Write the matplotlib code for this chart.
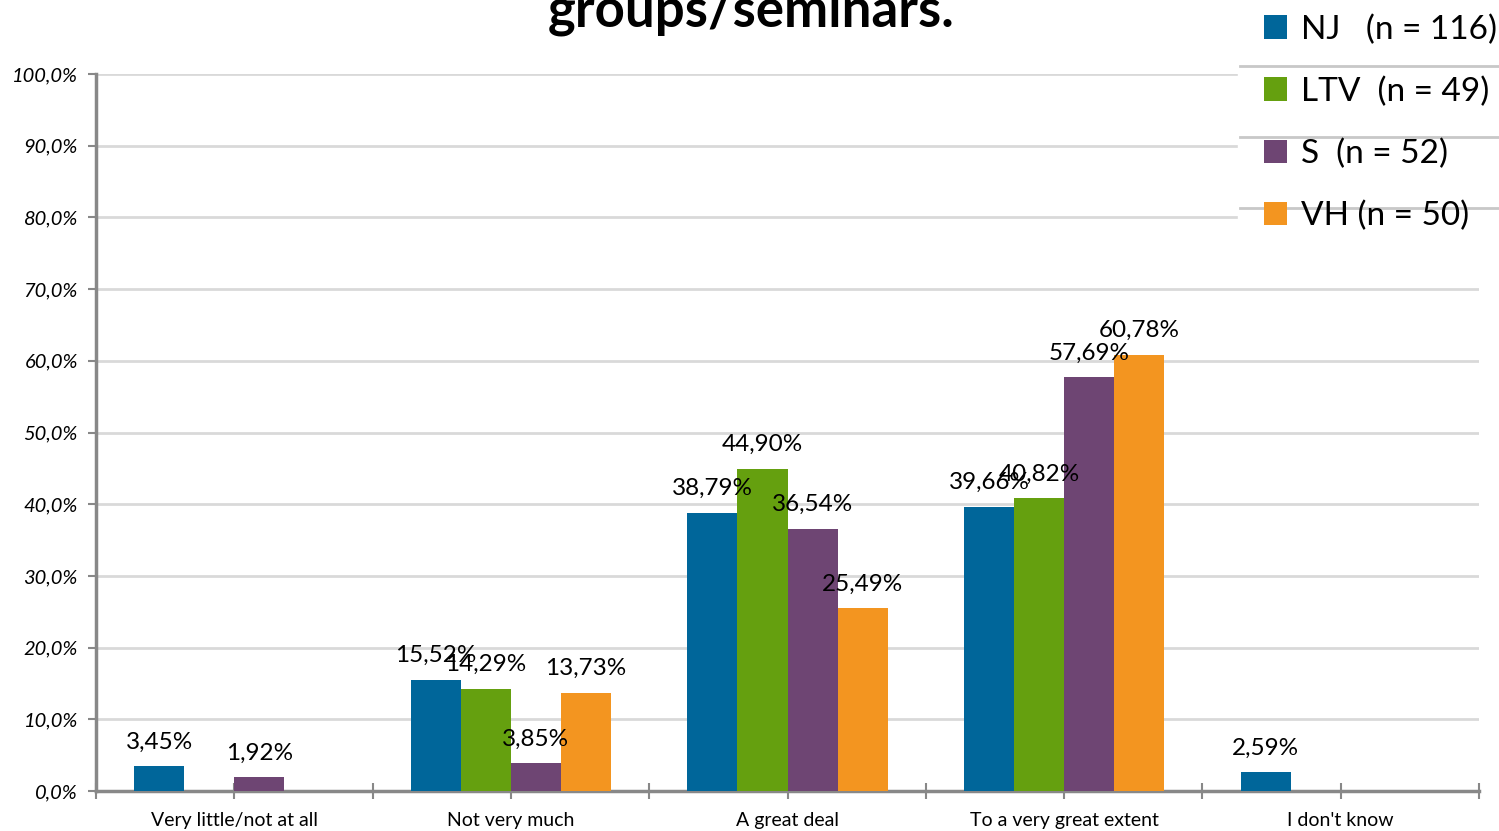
import numpy as np
import matplotlib.pyplot as plt
from matplotlib.ticker import FixedLocator
from matplotlib.lines import Line2D

plt.rcParams['font.family'] = ['Lato', 'DejaVu Sans']

categories = ['Very little/not at all', 'Not very much', 'A great deal',
              'To a very great extent', "I don't know"]
series_names = ['NJ   (n = 116)', 'LTV  (n = 49)', 'S  (n = 52)', 'VH (n = 50)']
nj = [3.45, 15.52, 38.79, 39.66, 2.59]
ltv = [0, 14.29, 44.90, 40.82, 0]
s = [1.92, 3.85, 36.54, 57.69, 0]
vh = [0, 13.73, 25.49, 60.78, 0]
colors = ['#00669a', '#65a00f', '#6e4573', '#f39520']
y_ticks = np.arange(0, 101, 10)

fig = plt.figure(figsize=(14.99, 8.31), dpi=100)
ax = fig.add_axes([96 / 1499, 1 - 791 / 831, (1479 - 96) / 1499, (791 - 74) / 831])

x = np.arange(len(categories))
w = 0.181
for i, (vals, c) in enumerate(zip([nj, ltv, s, vh], colors)):
    pos = x + (i - 1.5) * w
    ax.bar(pos, vals, width=w, color=c, label=series_names[i], zorder=3)
    for p, v in zip(pos, vals):
        if v > 0:
            ax.annotate(f"{v:.2f}%".replace('.', ','), (p, v), xytext=(0, 10),
                        textcoords='offset points', ha='center', va='bottom',
                        fontsize=17.5, color='black', zorder=5)

ax.set_xlim(-0.5, len(categories) - 0.5)
ax.set_ylim(0, 100)
ax.set_yticks(y_ticks)
ax.set_yticklabels([f"{t:.1f}%".replace('.', ',') for t in y_ticks],
                   fontsize=14.5, style='italic')
ax.yaxis.grid(True, color='#d9d9d9', linewidth=2, zorder=0)

ax.xaxis.set_major_locator(FixedLocator(np.arange(-0.5, len(categories), 1)))
ax.xaxis.set_minor_locator(FixedLocator(x))
ax.set_xticklabels([''] * (len(categories) + 1))
ax.set_xticklabels(categories, minor=True, fontsize=14)
ax.tick_params(axis='x', which='both', direction='inout', length=12, width=1.5,
               color='#888888', pad=9)
ax.tick_params(axis='y', direction='out', length=6, width=1.5, color='#888888', pad=7)

for side in ['top', 'right']:
    ax.spines[side].set_visible(False)
for side in ['left', 'bottom']:
    ax.spines[side].set_color('#888888')
    ax.spines[side].set_linewidth(2.5)
ax.set_axisbelow(True)

fig.text(0.501, 1 - 27 / 831, 'groups/seminars.', ha='center', va='baseline',
         fontsize=38, fontweight='bold')

# legend pasted over the top right corner
fig.patches.append(plt.Rectangle((1238 / 1499, 1 - 250 / 831), 261 / 1499, 250 / 831,
                                 transform=fig.transFigure, color='white', zorder=4))
for yy in [66, 137, 208]:
    fig.add_artist(Line2D([1240 / 1499, 1.0], [1 - yy / 831] * 2, color='#c8c8c8',
                          linewidth=2, transform=fig.transFigure, zorder=5))
leg = fig.legend(loc='upper left', bbox_to_anchor=(1234 / 1499, 1.019), frameon=False,
                 fontsize=24, handlelength=0.7, handleheight=0.7, handletextpad=0.4,
                 labelspacing=0.95)
leg.set_zorder(6)

fig.savefig('out.png', dpi=100)
